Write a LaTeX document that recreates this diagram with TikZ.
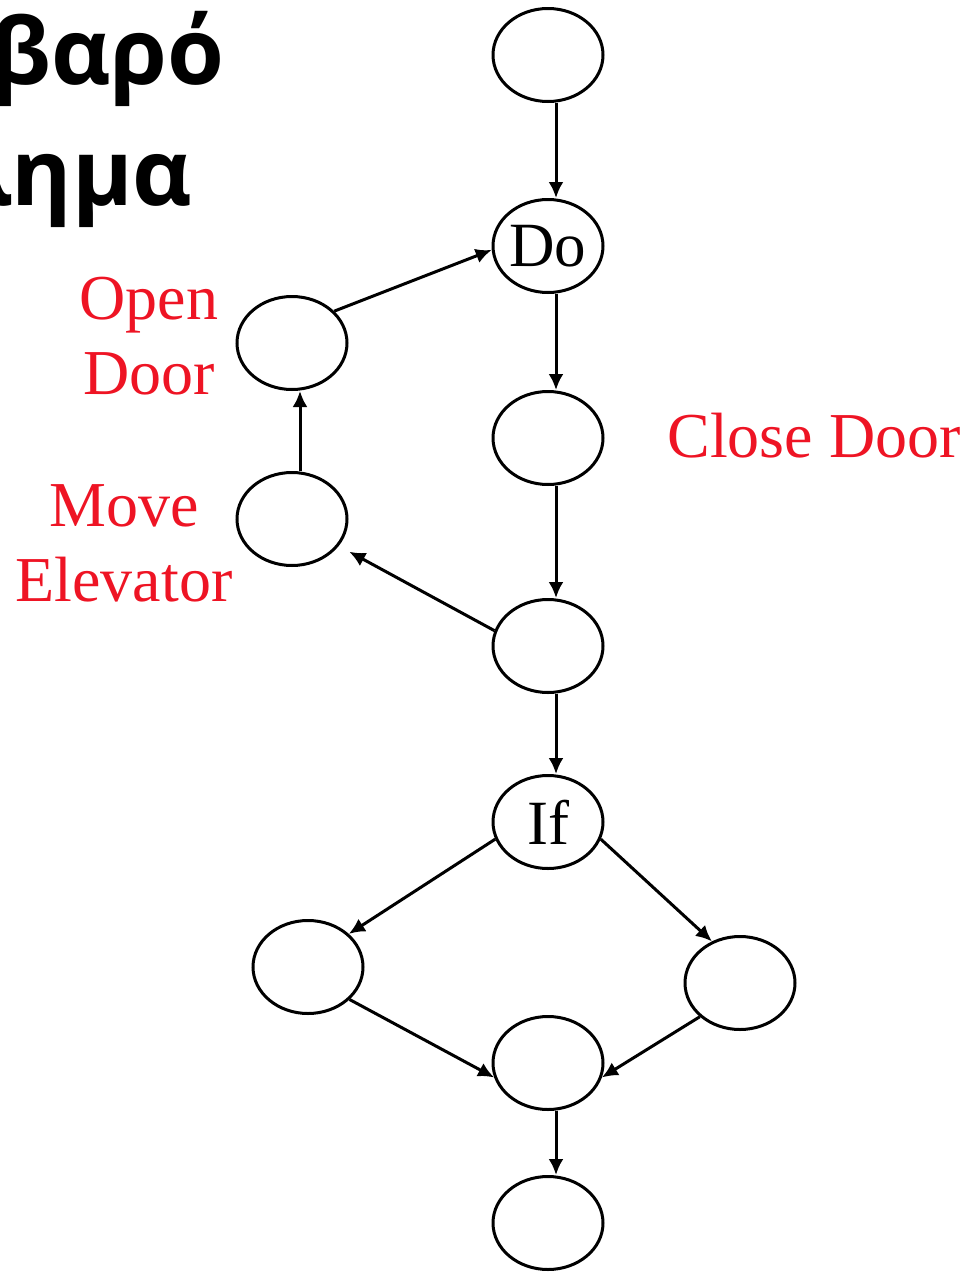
\documentclass[tikz,border=0pt]{standalone}
\usepackage{fontspec}
\setmainfont{Liberation Serif}
\newfontfamily\titlefont{Open Sans}
\usetikzlibrary{arrows.meta,shapes.geometric}
\definecolor{labelred}{RGB}{238,20,36}
\begin{document}
\begin{tikzpicture}[x=1pt,y=-1pt,>={Latex[length=16pt,width=15pt]},line width=3pt,
	state/.style={draw,ellipse,minimum width=110pt,minimum height=93pt,inner sep=0pt,font=\fontsize{63}{63}\selectfont},
	action/.style={text=labelred,align=center,inner sep=0pt,font=\fontsize{64}{75}\selectfont},
	heading/.style={anchor=base east,inner sep=0pt,font=\titlefont\bfseries\fontsize{92}{92}\selectfont}]
	\clip (0,0) rectangle (972,1275);
	% title, runs off the left edge
	\node[heading] (title1) at (226,84) {βαρό};
	\node[heading] (title2) at (194,205) {λημα};
	% states
	\node[state] (start) at (548,55) {};
	\node[state] (do) at (548,246) {Do};
	\node[state] (close) at (548,438) {};
	\node[state] (test) at (548,646) {};
	\node[state] (if) at (548,822) {If};
	\node[state] (thenbr) at (308,967) {};
	\node[state] (elsebr) at (740,983) {};
	\node[state] (join) at (548,1063) {};
	\node[state] (stop) at (548,1223) {};
	\node[state] (open) at (292,343) {};
	\node[state] (move) at (292,519) {};
	% actions
	\node[action] (opendoor) at (149,336) {Open\\Door};
	\node[action] (moveelev) at (124,543) {Move\\Elevator};
	\node[action,anchor=base] (closedoor) at (814,457) {Close Door};
	% main line
	\draw[->] ([xshift=8pt]start.south) -- ([xshift=8pt]do.north);
	\draw[->] ([xshift=8pt]do.south) -- ([xshift=8pt]close.north);
	\draw[->] ([xshift=8pt]close.south) -- ([xshift=8pt]test.north);
	\draw[->] ([xshift=8pt]test.south) -- ([xshift=8pt]if.north);
	\draw[->] ([xshift=8pt]join.south) -- ([xshift=8pt]stop.north);
	% loop back
	\draw[->,shorten >=12pt] (test.164) -- (move.330);
	\draw[->] ([xshift=8pt]move.north) -- ([xshift=8pt]open.south);
	\draw[->] (open.37) -- (do.184);
	% branches
	\draw[->] (if.198) -- (thenbr.39);
	\draw[->] (if.342) -- (elsebr.124);
	\draw[->] (thenbr.322) -- (join.195);
	\draw[->] (elsebr.220) -- (join.345);
\end{tikzpicture}
\end{document}
